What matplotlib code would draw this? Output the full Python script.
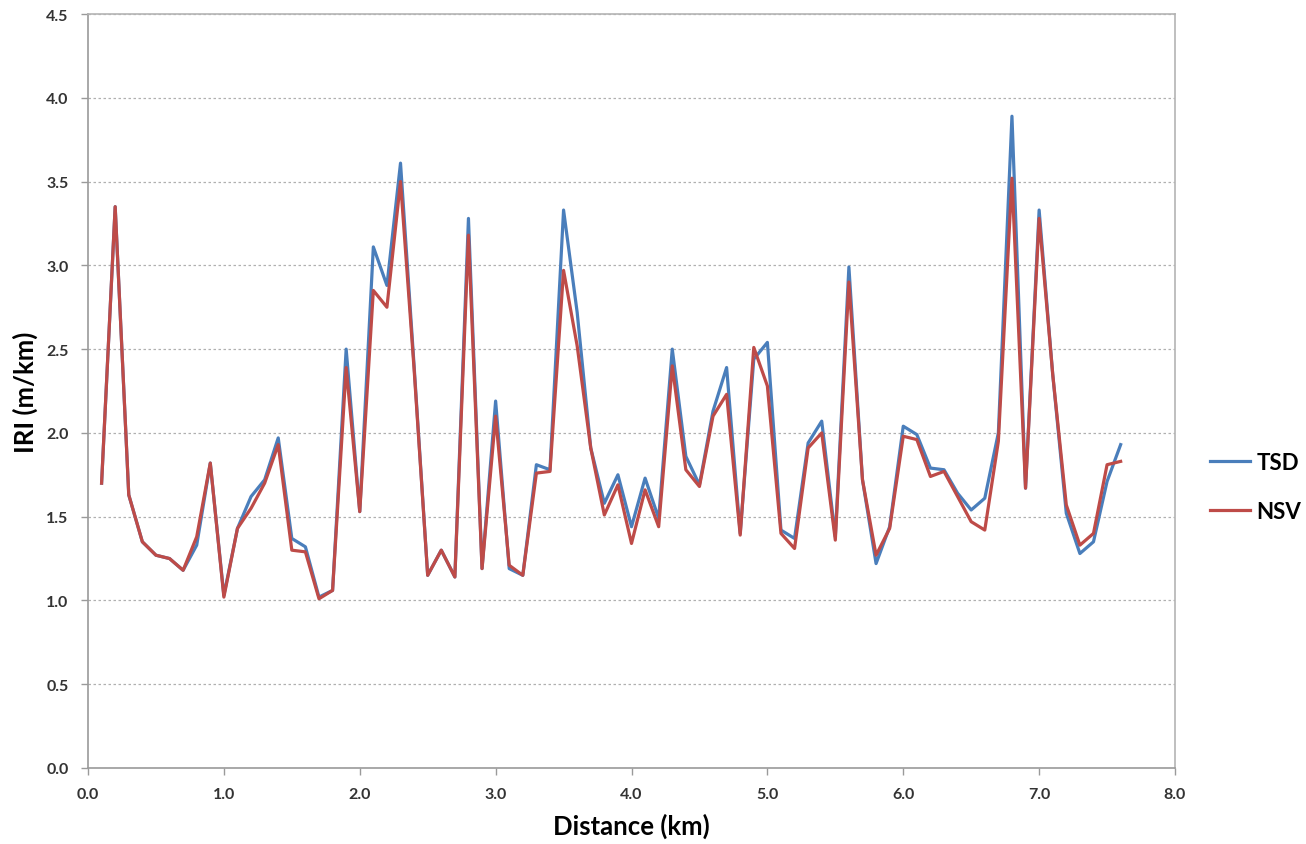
import matplotlib
matplotlib.use("Agg")
import matplotlib.pyplot as plt
from matplotlib.ticker import MultipleLocator, FormatStrFormatter

distance_km = [0.1, 0.2, 0.3, 0.4, 0.5, 0.6, 0.7, 0.8, 0.9, 1.0,
               1.1, 1.2, 1.3, 1.4, 1.5, 1.6, 1.7, 1.8, 1.9, 2.0,
               2.1, 2.2, 2.3, 2.4, 2.5, 2.6, 2.7, 2.8, 2.9, 3.0,
               3.1, 3.2, 3.3, 3.4, 3.5, 3.6, 3.7, 3.8, 3.9, 4.0,
               4.1, 4.2, 4.3, 4.4, 4.5, 4.6, 4.7, 4.8, 4.9, 5.0,
               5.1, 5.2, 5.3, 5.4, 5.5, 5.6, 5.7, 5.8, 5.9, 6.0,
               6.1, 6.2, 6.3, 6.4, 6.5, 6.6, 6.7, 6.8, 6.9, 7.0,
               7.1, 7.2, 7.3, 7.4, 7.5, 7.6]

tsd = [1.70, 3.35, 1.63, 1.35, 1.27, 1.25, 1.18, 1.33, 1.82, 1.03,
       1.43, 1.62, 1.72, 1.97, 1.37, 1.32, 1.02, 1.06, 2.50, 1.53,
       3.11, 2.88, 3.61, 2.40, 1.15, 1.30, 1.14, 3.28, 1.19, 2.19,
       1.19, 1.15, 1.81, 1.78, 3.33, 2.72, 1.91, 1.58, 1.75, 1.44,
       1.73, 1.49, 2.50, 1.86, 1.69, 2.13, 2.39, 1.40, 2.44, 2.54,
       1.42, 1.37, 1.94, 2.07, 1.38, 2.99, 1.72, 1.22, 1.44, 2.04,
       1.99, 1.79, 1.78, 1.64, 1.54, 1.61, 2.00, 3.89, 1.67, 3.33,
       2.35, 1.52, 1.28, 1.35, 1.71, 1.93]

nsv = [1.70, 3.35, 1.63, 1.35, 1.27, 1.25, 1.18, 1.38, 1.82, 1.02,
       1.43, 1.55, 1.70, 1.93, 1.30, 1.29, 1.01, 1.06, 2.39, 1.53,
       2.85, 2.75, 3.50, 2.38, 1.15, 1.30, 1.14, 3.18, 1.19, 2.10,
       1.21, 1.15, 1.76, 1.77, 2.97, 2.52, 1.91, 1.51, 1.69, 1.34,
       1.66, 1.44, 2.40, 1.78, 1.68, 2.10, 2.23, 1.39, 2.51, 2.28,
       1.40, 1.31, 1.91, 2.00, 1.36, 2.90, 1.72, 1.27, 1.43, 1.98,
       1.96, 1.74, 1.77, 1.62, 1.47, 1.42, 1.95, 3.52, 1.67, 3.28,
       2.35, 1.57, 1.33, 1.40, 1.81, 1.83]

series_names = ["TSD", "NSV"]
x_label = "Distance (km)"
y_label = "IRI (m/km)"

plt.rcParams['font.family'] = ['Lato', 'DejaVu Sans']

fig = plt.figure(figsize=(13.06, 8.45), dpi=100)
ax = fig.add_axes([88/1306, 1 - 769/845, (1175-88)/1306, (769-15)/845])

ax.plot(distance_km, tsd, color='#4A7EBB', lw=2.3, label=series_names[0], zorder=3)
ax.plot(distance_km, nsv, color='#BE4B48', lw=2.3, label=series_names[1], zorder=4)

ax.set_xlim(0, 8)
ax.set_ylim(0, 4.5)
ax.xaxis.set_major_locator(MultipleLocator(1.0))
ax.yaxis.set_major_locator(MultipleLocator(0.5))
ax.xaxis.set_major_formatter(FormatStrFormatter('%.1f'))
ax.yaxis.set_major_formatter(FormatStrFormatter('%.1f'))

ax.grid(axis='y', color='#b0b0b0', linestyle=(0, (2, 2)), linewidth=0.9, zorder=0)
ax.set_axisbelow(True)

for s in ['left', 'bottom']:
    ax.spines[s].set_color('#9a9a9a')
    ax.spines[s].set_linewidth(1.2)
for s in ['top', 'right']:
    ax.spines[s].set_color('#b4b4b4')
    ax.spines[s].set_linewidth(1.2)

ax.tick_params(axis='both', direction='out', length=5, width=1, color='#9a9a9a',
               labelsize=11.5, labelcolor='#333333')
ax.tick_params(axis='x', pad=9)
ax.tick_params(axis='y', pad=9)
for lbl in ax.get_xticklabels() + ax.get_yticklabels():
    lbl.set_fontweight('bold')

ax.set_xlabel(x_label, fontsize=18.5, fontweight='bold', labelpad=8)
ax.set_ylabel(y_label, fontsize=18.5, fontweight='bold', labelpad=6)

leg = ax.legend(loc='center left', bbox_to_anchor=(1210/1306, 1 - 488/845),
                bbox_transform=fig.transFigure, frameon=False,
                borderaxespad=0, borderpad=0,
                prop={'weight': 'bold', 'size': 16}, handlelength=1.8,
                labelspacing=1.25, handletextpad=0.3)

fig.savefig('out.png', dpi=100)
